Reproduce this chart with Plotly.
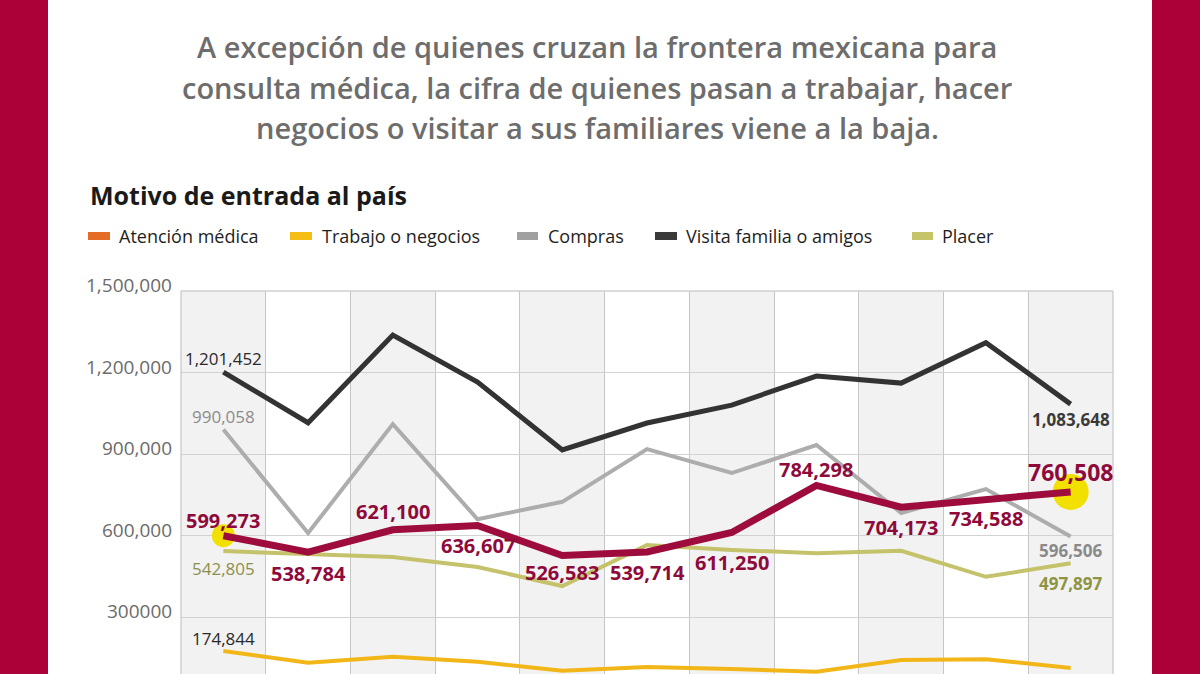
import plotly.graph_objects as go

# ---------------- data ----------------
puntos = list(range(11))  # 11 periods (x labels not visible in the reference)
atencion_medica = [599273, 538784, 621100, 636607, 526583, 539714, 611250, 784298, 704173, 734588, 760508]
trabajo_negocios = [174844, 132000, 154000, 135000, 102000, 116000, 109000, 99000, 142000, 145000, 112000]
compras = [990058, 609000, 1010000, 660000, 724000, 918000, 830000, 933000, 683000, 771000, 596506]
visita_familia = [1201452, 1015000, 1338000, 1165000, 915000, 1014000, 1080000, 1187000, 1161000, 1310000, 1083648]
placer = [542805, 532000, 521000, 484000, 414000, 565000, 547000, 535000, 544000, 448000, 497897]

ytick_vals = [300000, 600000, 900000, 1200000, 1500000]
ytick_text = ["300000", "600,000", "900,000", "1,200,000", "1,500,000"]

legend_labels = ["Atención médica", "Trabajo o negocios", "Compras", "Visita familia o amigos", "Placer"]

titulo = [
    "A excepción de quienes cruzan la frontera mexicana para",
    "consulta médica, la cifra de quienes pasan a trabajar, hacer",
    "negocios o visitar a sus familiares viene a la baja.",
]
subtitulo = "Motivo de entrada al país"

# ---------------- layout geometry / styles ----------------
W, H = 1200, 674
L, R, T, B = 181, 1113, 291, 674
FONT = "Open Sans"
CRIMSON = "#9E0B3D"
CRIMSON_TXT = "#8E0A3B"
BORDER = "#AB0038"
HIGHLIGHT = "#F2E000"


def pxx(px):
    return (px - L) / (R - L)


def pxy(py):
    return (B - py) / (B - T)


def fmt(v):
    return f"{v:,}"


fig = go.Figure()

fig.add_trace(go.Scatter(x=puntos, y=trabajo_negocios, mode="lines",
                         line=dict(color="#F2B619", width=4), hoverinfo="skip"))
fig.add_trace(go.Scatter(x=puntos, y=placer, mode="lines",
                         line=dict(color="#C4C26A", width=4), hoverinfo="skip"))
fig.add_trace(go.Scatter(x=puntos, y=compras, mode="lines",
                         line=dict(color="#ADADAD", width=4), hoverinfo="skip"))
fig.add_trace(go.Scatter(x=puntos, y=visita_familia, mode="lines",
                         line=dict(color="#333333", width=5), hoverinfo="skip"))
# yellow highlight circles (first and last point of Atención médica)
fig.add_trace(go.Scatter(x=[puntos[0], puntos[-1]], y=[atencion_medica[0], atencion_medica[-1]],
                         mode="markers", opacity=1,
                         marker=dict(color=HIGHLIGHT, size=[23, 36], opacity=1, line=dict(width=0)),
                         hoverinfo="skip"))
fig.add_trace(go.Scatter(x=puntos, y=atencion_medica, mode="lines",
                         line=dict(color=CRIMSON, width=7), hoverinfo="skip"))

ann = []
shapes = []

# alternating column bands
for i in puntos:
    if i % 2 == 0:
        shapes.append(dict(type="rect", xref="x", yref="paper", x0=i - 0.5, x1=i + 0.5, y0=0, y1=1,
                           fillcolor="#F2F2F2", line=dict(width=0), layer="below"))
# plot frame lines
shapes.append(dict(type="line", xref="paper", yref="paper", x0=0, x1=1, y0=1, y1=1,
                   line=dict(color="#CFCFCF", width=1.5)))
shapes.append(dict(type="line", xref="paper", yref="paper", x0=0, x1=0, y0=0, y1=1,
                   line=dict(color="#C6C6C6", width=1.2)))
shapes.append(dict(type="line", xref="paper", yref="paper", x0=1, x1=1, y0=0, y1=1,
                   line=dict(color="#C6C6C6", width=1.2)))

# side borders
shapes.append(dict(type="rect", xref="paper", yref="paper", x0=pxx(0), x1=pxx(48), y0=pxy(H), y1=pxy(0),
                   fillcolor=BORDER, line=dict(width=0), layer="above"))
shapes.append(dict(type="rect", xref="paper", yref="paper", x0=pxx(1152), x1=pxx(W), y0=pxy(H), y1=pxy(0),
                   fillcolor=BORDER, line=dict(width=0), layer="above"))

# title lines
for line_txt, ypx in zip(titulo, [47, 87, 127]):
    ann.append(dict(text=line_txt, xref="paper", yref="paper", x=pxx(597), y=pxy(ypx),
                    xanchor="center", yanchor="middle", showarrow=False,
                    font=dict(family=FONT, size=29, color="#6D6D6D", weight=600)))
ann.append(dict(text=subtitulo, xref="paper", yref="paper", x=pxx(88), y=pxy(195),
                xanchor="left", yanchor="middle", showarrow=False,
                font=dict(family=FONT, size=25, color="#1A1A1A", weight=700)))

# manual legend
legend_colors = ["#E46C24", "#F5BE15", "#A0A0A0", "#3A3A3A", "#C5C46A"]
legend_sw_x = [(88, 110), (290, 312), (517, 538), (655, 677), (912, 933)]
legend_tx_x = [117, 320, 546, 684, 940]
for lab, col, (sx0, sx1), tx in zip(legend_labels, legend_colors, legend_sw_x, legend_tx_x):
    shapes.append(dict(type="rect", xref="paper", yref="paper", x0=pxx(sx0), x1=pxx(sx1),
                       y0=pxy(240), y1=pxy(232), fillcolor=col, line=dict(width=0)))
    ann.append(dict(text=lab, xref="paper", yref="paper", x=pxx(tx), y=pxy(236),
                    xanchor="left", yanchor="middle", showarrow=False,
                    font=dict(family=FONT, size=18, color="#1E1E1E", weight=500)))

# y tick labels
for v, t in zip(ytick_vals, ytick_text):
    ann.append(dict(text=t, xref="paper", yref="y", x=0, y=v, xanchor="right", yanchor="middle",
                    xshift=-7, yshift=6, showarrow=False,
                    font=dict(family=FONT, size=19, color="#6B6B6B", weight=400)))

# crimson labels
crimson_shift = [15, -21, 18, -20, -17, -21, -30, 16, -20, -20, 20]
for i, (v, s) in enumerate(zip(atencion_medica, crimson_shift)):
    size = 23 if i == len(atencion_medica) - 1 else 20
    ann.append(dict(text=fmt(v), x=puntos[i], y=v, yshift=s, xanchor="center", yanchor="middle",
                    showarrow=False, font=dict(family=FONT, size=size, color=CRIMSON_TXT, weight=700)))

# other end labels
others = [
    (visita_familia, 0, 14, "#2A2A2A", 400),
    (visita_familia, -1, -15, "#3A3A3A", 700),
    (compras, 0, 13, "#8C8C8C", 400),
    (compras, -1, -14, "#8A8A8A", 700),
    (placer, 0, -17, "#8C904F", 400),
    (placer, -1, -20, "#8E9443", 700),
    (trabajo_negocios, 0, 13, "#2A2A2A", 400),
]
for serie, idx, s, col, wgt in others:
    ann.append(dict(text=fmt(serie[idx]), x=puntos[idx], y=serie[idx], yshift=s,
                    xanchor="center", yanchor="middle", showarrow=False,
                    font=dict(family=FONT, size=17, color=col, weight=wgt)))

fig.update_layout(
    width=W, height=H,
    margin=dict(l=L, r=W - R, t=T, b=H - B, pad=0),
    paper_bgcolor="white", plot_bgcolor="white",
    showlegend=False,
    xaxis=dict(range=[-0.5, 10.5], tickvals=[i - 0.5 for i in range(12)], showgrid=True,
               gridcolor="#C6C6C6", gridwidth=1.2, showticklabels=False, zeroline=False,
               showline=False, ticks="", fixedrange=True),
    yaxis=dict(range=[90300, 1500000], tickvals=ytick_vals, showgrid=True, gridcolor="#D2D2D2",
               gridwidth=1.2, showticklabels=False, zeroline=False, showline=False, ticks="",
               fixedrange=True),
    annotations=ann, shapes=shapes,
)

fig.write_html("out.html", config={"displayModeBar": False},
               post_script="document.body.style.margin='0px';document.body.style.overflow='hidden';")
